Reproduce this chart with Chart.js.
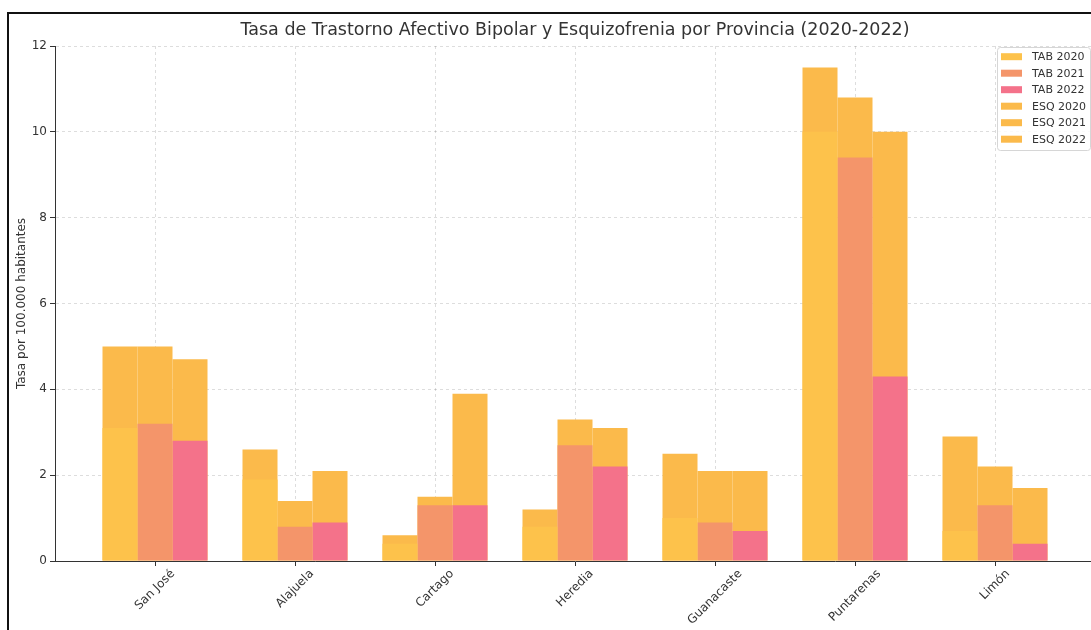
<!DOCTYPE html>
<html lang="es">
<head>
<meta charset="utf-8">
<title>Tasa de Trastorno Afectivo Bipolar y Esquizofrenia por Provincia</title>
<script src="https://cdn.jsdelivr.net/npm/chart.js@4.4.0/dist/chart.umd.min.js"></script>
<style>
  html, body { margin: 0; padding: 0; background: #fff; overflow: hidden; }
  #wrap { position: absolute; left: 0; top: 0; width: 1100px; height: 640px; }
</style>
</head>
<body>
<div id="wrap"><canvas id="chart" width="1100" height="640"></canvas></div>
<script>
// Datos por provincia (tasa por 100.000 habitantes)
const provincias = ['San José', 'Alajuela', 'Cartago', 'Heredia', 'Guanacaste', 'Puntarenas', 'Limón'];
const tab2020 = [3.1, 1.9, 0.4, 0.8, 1.0, 10.0, 0.7];
const tab2021 = [3.2, 0.8, 1.3, 2.7, 0.9, 9.4, 1.3];
const tab2022 = [2.8, 0.9, 1.3, 2.2, 0.7, 4.3, 0.4];
const esq2020 = [5.0, 2.6, 0.6, 1.2, 2.5, 11.5, 2.9];
const esq2021 = [5.0, 1.4, 1.5, 3.3, 2.1, 10.8, 2.2];
const esq2022 = [4.7, 2.1, 3.9, 3.1, 2.1, 10.0, 1.7];
const yTicks = [0, 2, 4, 6, 8, 10, 12];

const titulo = 'Tasa de Trastorno Afectivo Bipolar y Esquizofrenia por Provincia (2020-2022)';
const tituloY = 'Tasa por 100.000 habitantes';
const FONT = '"DejaVu Sans", sans-serif';

const puntos = vals => vals.map((v, i) => ({ x: i, y: v }));

// TAB se dibuja encima (order 0), ESQ detrás (order 1); cada año comparte columna
function serie(label, vals, color, year, order) {
    return {
        label: label,
        data: puntos(vals),
        backgroundColor: color,
        borderWidth: 0,
        stack: year,
        order: order,
        categoryPercentage: 0.75,
        barPercentage: 1.0
    };
}

const series = [
    serie('TAB 2020', tab2020, '#FDC24B', '2020', 0),
    serie('TAB 2021', tab2021, '#F4956A', '2021', 0),
    serie('TAB 2022', tab2022, '#F4728A', '2022', 0),
    serie('ESQ 2020', esq2020, '#FBBA4B', '2020', 1),
    serie('ESQ 2021', esq2021, '#FBBA4B', '2021', 1),
    serie('ESQ 2022', esq2022, '#FBBA4B', '2022', 1)
];

// Título, etiquetas rotadas, leyenda y marco
const extras = {
    id: 'extras',
    beforeDraw(chart) {
        const ctx = chart.ctx;
        ctx.save();
        ctx.fillStyle = '#fff';
        ctx.fillRect(0, 0, chart.width, chart.height);
        ctx.restore();
    },
    afterDraw(chart) {
        const ctx = chart.ctx;
        const area = chart.chartArea;
        const xs = chart.scales.x;
        ctx.save();
        ctx.fillStyle = '#333';

        ctx.font = '17.5px ' + FONT;
        ctx.textAlign = 'center';
        ctx.textBaseline = 'middle';
        ctx.fillText(titulo, (area.left + area.right) / 2, 30);

        ctx.save();
        ctx.font = '12px ' + FONT;
        ctx.translate(22, (area.top + area.bottom) / 2);
        ctx.rotate(-Math.PI / 2);
        ctx.fillText(tituloY, 0, 0);
        ctx.restore();

        ctx.font = '12px ' + FONT;
        provincias.forEach((p, i) => {
            const px = xs.getPixelForValue(i);
            const w = ctx.measureText(p).width;
            const half = (w + 11) * Math.SQRT1_2 / 2;
            ctx.save();
            ctx.translate(px, area.bottom + 7 + half);
            ctx.rotate(-Math.PI / 4);
            ctx.fillText(p, 0, 0);
            ctx.restore();
        });

        // leyenda
        const lx = 997, ly = 47, lw = 93, lh = 103;
        ctx.beginPath();
        ctx.roundRect(lx + 0.5, ly + 0.5, lw, lh, 3);
        ctx.fillStyle = 'rgba(255,255,255,0.85)';
        ctx.fill();
        ctx.strokeStyle = '#d6d6d6';
        ctx.lineWidth = 1;
        ctx.stroke();
        ctx.font = '11px ' + FONT;
        ctx.textAlign = 'left';
        chart.data.datasets.forEach((ds, i) => {
            const cy = 56.7 + i * 16.5;
            ctx.fillStyle = ds.backgroundColor;
            ctx.fillRect(1001, cy - 3.5, 21, 7);
            ctx.fillStyle = '#333';
            ctx.fillText(ds.label, 1032, cy + 0.5);
        });

        // marco
        ctx.fillStyle = '#111';
        ctx.fillRect(8, 12, chart.width - 8, 2);
        ctx.fillRect(7, 12, 2, chart.height - 12);
        ctx.restore();
    }
};

const rejilla = {
    color: 'rgba(0,0,0,0.17)',
    lineWidth: 0.8,
    offset: false,
    drawTicks: true,
    tickLength: 5,
    tickColor: '#333',
    tickWidth: 1,
    tickBorderDash: []
};

new Chart(document.getElementById('chart'), {
    type: 'bar',
    data: { datasets: series },
    options: {
        responsive: false,
        animation: false,
        devicePixelRatio: 1,
        layout: { padding: { left: 0, right: 5, top: 46, bottom: 0 } },
        plugins: {
            legend: { display: false },
            title: { display: false },
            tooltip: { enabled: false }
        },
        scales: {
            x: {
                type: 'linear',
                stacked: true,
                offset: false,
                min: -100 / 140,
                max: provincias.length - 1 + 100 / 140,
                afterBuildTicks: s => { s.ticks = provincias.map((_, i) => ({ value: i })); },
                afterFit: s => { s.height = 79; },
                ticks: { display: false },
                grid: rejilla,
                border: { display: true, color: '#333', width: 1, dash: [3, 3] }
            },
            y: {
                stacked: false,
                min: 0,
                max: 12,
                afterBuildTicks: s => { s.ticks = yTicks.map(v => ({ value: v })); },
                afterFit: s => { s.width = 55; },
                ticks: {
                    color: '#333',
                    font: { family: FONT, size: 12 },
                    padding: 3
                },
                grid: rejilla,
                border: { display: true, color: '#333', width: 1, dash: [3, 3] }
            }
        }
    },
    plugins: [extras]
});
</script>
</body>
</html>
